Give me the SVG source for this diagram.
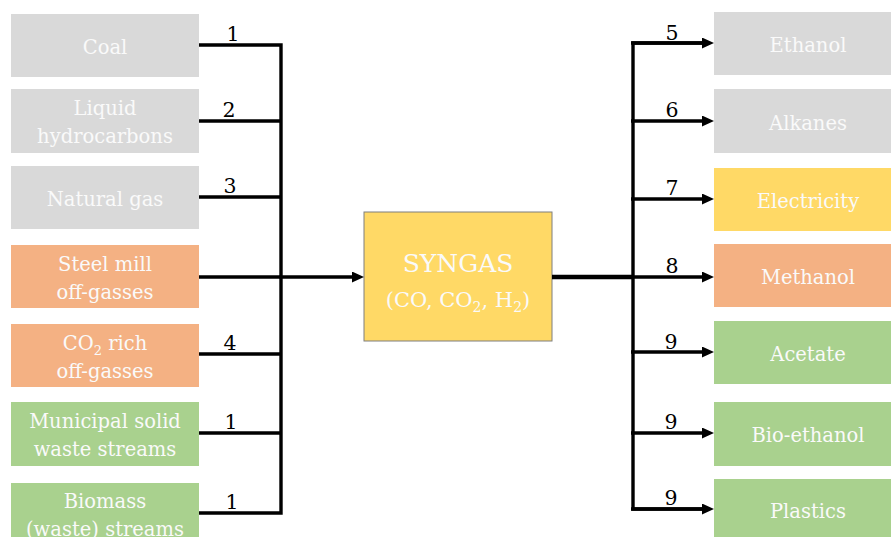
<svg xmlns="http://www.w3.org/2000/svg" width="891" height="537" viewBox="0 0 891 537">
<style>
.box{stroke:none}
.gray{fill:#D9D9D9}
.orange{fill:#F4B183}
.yellow{fill:#FFD966}
.green{fill:#A9D18E}
.lbl{font-family:"DejaVu Serif","Liberation Serif",serif;font-size:19.5px;fill:#FAFAFA;text-anchor:middle}
.num{font-family:"DejaVu Serif","Liberation Serif",serif;font-size:20.5px;fill:#000;text-anchor:middle}
.wire{fill:none;stroke:#000;stroke-width:3.4;stroke-linejoin:miter}
</style>
<defs>
<marker id="ah" viewBox="0 0 12 11" refX="1" refY="5.5" markerWidth="12" markerHeight="11" markerUnits="userSpaceOnUse" orient="auto">
<path d="M0,0 L12,5.5 L0,11 z" fill="#000"/>
</marker>
</defs>
<rect width="891" height="537" fill="#FFFFFF"/>

<g id="coal"><rect class="box gray" x="11" y="14" width="188" height="63"/><text class="lbl" x="105" y="54">Coal</text></g>
<g id="liquid-hydrocarbons"><rect class="box gray" x="11" y="89" width="188" height="64"/><text class="lbl" x="105" y="115">Liquid</text><text class="lbl" x="105" y="143">hydrocarbons</text></g>
<g id="natural-gas"><rect class="box gray" x="11" y="166" width="188" height="63"/><text class="lbl" x="105" y="206">Natural gas</text></g>
<g id="steel-mill"><rect class="box orange" x="11" y="245" width="188" height="63"/><text class="lbl" x="105" y="270.5">Steel mill</text><text class="lbl" x="105" y="298.5">off-gasses</text></g>
<g id="co2-rich"><rect class="box orange" x="11" y="324" width="188" height="63"/><text class="lbl" x="105" y="349.5">CO<tspan font-size="13" dy="5">2</tspan><tspan dy="-5"> rich</tspan></text><text class="lbl" x="105" y="377.5">off-gasses</text></g>
<g id="municipal"><rect class="box green" x="11" y="402" width="188" height="64"/><text class="lbl" x="105" y="428">Municipal solid</text><text class="lbl" x="105" y="456">waste streams</text></g>
<g id="biomass"><rect class="box green" x="11" y="483" width="188" height="62"/><text class="lbl" x="105" y="507.5">Biomass</text><text class="lbl" x="105" y="535.5">(waste) streams</text></g>

<g id="syngas"><rect x="364" y="212" width="188" height="129" fill="#FFD966" stroke="#7F7F7F" stroke-width="1"/><text class="lbl" x="458" y="272" style="font-size:25px">SYNGAS</text><text class="lbl" x="458" y="307" style="font-size:21px">(CO, CO<tspan font-size="14" dy="5">2</tspan><tspan dy="-5">, H</tspan><tspan font-size="14" dy="5">2</tspan><tspan dy="-5">)</tspan></text></g>

<g id="ethanol"><rect class="box gray" x="714" y="12" width="188" height="63"/><text class="lbl" x="808" y="52">Ethanol</text></g>
<g id="alkanes"><rect class="box gray" x="714" y="89" width="188" height="64"/><text class="lbl" x="808" y="130">Alkanes</text></g>
<g id="electricity"><rect class="box yellow" x="714" y="168" width="188" height="63"/><text class="lbl" x="808" y="208">Electricity</text></g>
<g id="methanol"><rect class="box orange" x="714" y="244" width="188" height="63"/><text class="lbl" x="808" y="284">Methanol</text></g>
<g id="acetate"><rect class="box green" x="714" y="321" width="188" height="63"/><text class="lbl" x="808" y="361">Acetate</text></g>
<g id="bio-ethanol"><rect class="box green" x="714" y="402" width="188" height="64"/><text class="lbl" x="808" y="442">Bio-ethanol</text></g>
<g id="plastics"><rect class="box green" x="714" y="479" width="188" height="63"/><text class="lbl" x="808" y="518">Plastics</text></g>

<g id="connectors">
<path class="wire" d="M199 45 H281 V513 H199"/>
<path class="wire" d="M199 121 H281"/>
<path class="wire" d="M199 197 H281"/>
<path class="wire" d="M199 277 H281"/>
<path class="wire" d="M199 354 H281"/>
<path class="wire" d="M199 433 H281"/>
<path class="wire" d="M279.5 277 H353" marker-end="url(#ah)"/>
<path class="wire" d="M552 277 H633" style="stroke-width:4.4"/>
<path class="wire" d="M702 43 H633 V509 H702"/>
<path class="wire" d="M631 43 H703" marker-end="url(#ah)"/>
<path class="wire" d="M631 121 H703" marker-end="url(#ah)"/>
<path class="wire" d="M631 199 H703" marker-end="url(#ah)"/>
<path class="wire" d="M631 277 H703" marker-end="url(#ah)"/>
<path class="wire" d="M631 352 H703" marker-end="url(#ah)"/>
<path class="wire" d="M631 433 H703" marker-end="url(#ah)"/>
<path class="wire" d="M631 509 H703" marker-end="url(#ah)"/>
<text class="num" x="233" y="41">1</text>
<text class="num" x="229" y="117">2</text>
<text class="num" x="230" y="193">3</text>
<text class="num" x="230" y="350">4</text>
<text class="num" x="231" y="429">1</text>
<text class="num" x="232" y="509">1</text>
<text class="num" x="672" y="40">5</text>
<text class="num" x="672" y="117">6</text>
<text class="num" x="672" y="195">7</text>
<text class="num" x="672" y="273">8</text>
<text class="num" x="671" y="349">9</text>
<text class="num" x="671" y="429">9</text>
<text class="num" x="671" y="505">9</text>
</g>
</svg>
